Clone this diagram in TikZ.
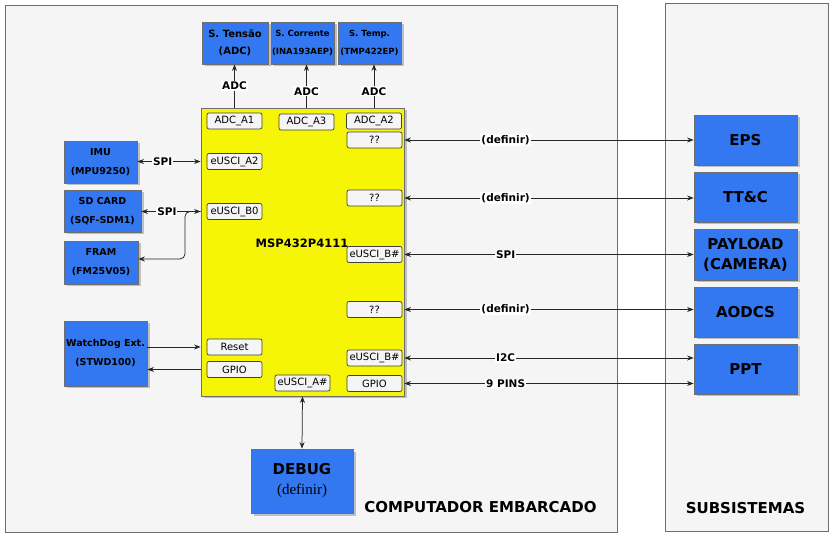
\documentclass[tikz,border=0pt]{standalone}
\usepackage{fontspec}
\setmainfont{DejaVu Sans}
\newfontfamily\serifa{Liberation Serif}
\usetikzlibrary{arrows.meta, shadows}

\definecolor{azulbloco}{RGB}{51,120,240}
\definecolor{amarelomcu}{RGB}{245,245,5}
\definecolor{fundo}{RGB}{245,245,245}
\definecolor{borda}{RGB}{110,110,110}

\tikzset{
  quadro/.style={draw=borda, line width=1pt, fill=fundo, inner sep=0pt},
  bloco/.style={draw=borda, fill=azulbloco, line width=0.8pt, align=center, inner sep=0pt,
    drop shadow={shadow xshift=2.5pt, shadow yshift=-2.5pt, fill=black!25, opacity=1},
    font=\bfseries\fontsize{9.5}{19}\selectfont},
  subbloco/.style={bloco, minimum width=103pt, minimum height=50pt, font=\bfseries\fontsize{15}{20}\selectfont},
  pino/.style={draw=black!75, fill=fundo, rounded corners=2pt, line width=0.7pt, minimum width=55pt,
    minimum height=16pt, inner sep=0pt, font=\fontsize{10}{12}\selectfont},
  rotulo/.style={fill=white, inner sep=1pt, font=\bfseries\fontsize{10.5}{12}\selectfont},
  titulo/.style={font=\bfseries\fontsize{15}{18}\selectfont},
  conector/.style={draw=black!85, line width=0.75pt, -{Stealth[length=6.5pt,width=5pt]}},
  duplo/.style={conector, {Stealth[length=6.5pt,width=5pt]}-{Stealth[length=6.5pt,width=5pt]}},
}

\begin{document}
\begin{tikzpicture}[x=1pt, y=-1pt]
  \useasboundingbox (0,0) rectangle (836,537);
  % quadros de fundo
  \node[quadro, minimum width=612pt, minimum height=526pt] (embarcado) at (311,269) {};
  \node[quadro, minimum width=163pt, minimum height=527pt] (subsist) at (746.5,267.5) {};
  \node[titulo] (tembarcado) at (480.5,507) {COMPUTADOR EMBARCADO};
  \node[titulo] (tsubsist) at (745.5,508) {SUBSISTEMAS};

  % sensores (em cima)
  \node[bloco, minimum width=66pt, minimum height=42pt, font=\bfseries\fontsize{10}{17}\selectfont] (tensao) at (235,43) {S. Tensão\\(ADC)};
  \node[bloco, minimum width=63pt, minimum height=42pt, font=\bfseries\fontsize{8.5}{18}\selectfont] (corrente) at (302.5,43) {S. Corrente\\(INA193AEP)};
  \node[bloco, minimum width=63pt, minimum height=42pt, font=\bfseries\fontsize{8.5}{18}\selectfont] (temp) at (369.5,43) {S. Temp.\\(TMP422EP)};

  % microcontrolador
  \node[draw=borda, fill=amarelomcu, line width=0.8pt, minimum width=203pt, minimum height=288pt,
    drop shadow={shadow xshift=2.5pt, shadow yshift=-2.5pt, fill=black!25, opacity=1}] (mcu) at (302.5,252) {};
  \node[font=\bfseries\fontsize{11.5}{14}\selectfont] (nomemcu) at (302,243) {MSP432P4111};

  % pinos
  \node[pino] (a1) at (234.5,121) {ADC\_A1};
  \node[pino] (a3) at (306.5,122) {ADC\_A3};
  \node[pino] (a2) at (374,121) {ADC\_A2};
  \node[pino] (q1) at (374.5,140) {??};
  \node[pino] (ua2) at (234.5,161.5) {eUSCI\_A2};
  \node[pino] (ub0) at (234.5,211.5) {eUSCI\_B0};
  \node[pino] (q2) at (374.5,198) {??};
  \node[pino] (ubx1) at (374.5,254.5) {eUSCI\_B\#};
  \node[pino] (q3) at (374.5,309.5) {??};
  \node[pino] (ubx2) at (374.5,358) {eUSCI\_B\#};
  \node[pino] (gpior) at (374.5,383.5) {GPIO};
  \node[pino] (reset) at (234.5,347) {Reset};
  \node[pino] (gpiol) at (234.5,369.5) {GPIO};
  \node[pino] (uax) at (302.5,383) {eUSCI\_A\#};

  % blocos da esquerda
  \node[bloco, minimum width=73pt, minimum height=42pt] (imu) at (100.5,162) {IMU\\(MPU9250)};
  \node[bloco, minimum width=77pt, minimum height=42pt] (sd) at (102.5,211) {SD CARD\\(SQF-SDM1)};
  \node[bloco, minimum width=74pt, minimum height=43pt] (fram) at (101,262.5) {FRAM\\(FM25V05)};
  \node[bloco, minimum width=83pt, minimum height=65pt] (wd) at (105.5,353.5) {WatchDog Ext.\\(STWD100)};
  \node[bloco, minimum width=102pt, minimum height=64pt, font=\bfseries\fontsize{15}{20}\selectfont] (debug) at (302,481) {DEBUG\\{\serifa\mdseries (definir)}};

  % subsistemas
  \node[subbloco] (eps) at (745.5,140) {EPS};
  \node[subbloco] (ttc) at (745.5,197) {TT\&C};
  \node[subbloco, minimum height=51pt] (payload) at (745.5,254.5) {PAYLOAD\\(CAMERA)};
  \node[subbloco] (aodcs) at (745.5,312) {AODCS};
  \node[subbloco] (ppt) at (745.5,369) {PPT};

  % ligacoes dos sensores
  \draw[conector] (a1 |- mcu.north) -- node[rotulo, pos=0.5] (adc1) {ADC} (a1 |- tensao.south);
  \draw[conector] (a3 |- mcu.north) -- node[rotulo, pos=0.38] (adc3) {ADC} (a3 |- corrente.south);
  \draw[conector] (a2 |- mcu.north) -- node[rotulo, pos=0.38] (adc2) {ADC} (a2 |- temp.south);

  % ligacoes da esquerda
  \draw[duplo] (imu.east |- ua2) -- node[rotulo, pos=0.4] (spi1) {SPI} (ua2 -| mcu.west);
  \draw[duplo] (sd.east |- ub0) -- node[rotulo, pos=0.43] (spi2) {SPI} (ub0 -| mcu.west);
  \coordinate (ramo) at (185,259);
  \draw[conector, rounded corners=5pt] (ub0 -| mcu.west) -| (ramo) -- (ramo -| fram.east);
  \draw[conector] (wd.east |- reset) -- (reset -| mcu.west);
  \draw[conector] (gpiol -| mcu.west) -- (gpiol -| wd.east);
  \draw[duplo] (mcu.south) -- (debug.north);

  % ligacoes com os subsistemas
  \draw[duplo] (q1 -| mcu.east) -- node[rotulo, pos=0.35] (def1) {(definir)} (q1 -| eps.west);
  \draw[duplo] (q2 -| mcu.east) -- node[rotulo, pos=0.35] (def2) {(definir)} (q2 -| ttc.west);
  \draw[duplo] (ubx1 -| mcu.east) -- node[rotulo, pos=0.35] (spi3) {SPI} (ubx1 -| payload.west);
  \draw[duplo] (q3 -| mcu.east) -- node[rotulo, pos=0.35] (def3) {(definir)} (q3 -| aodcs.west);
  \draw[duplo] (ubx2 -| mcu.east) -- node[rotulo, pos=0.35] (i2c) {I2C} (ubx2 -| ppt.west);
  \draw[duplo] (gpior -| mcu.east) -- node[rotulo, pos=0.35] (pins) {9 PINS} (gpior -| ppt.west);
\end{tikzpicture}
\end{document}
